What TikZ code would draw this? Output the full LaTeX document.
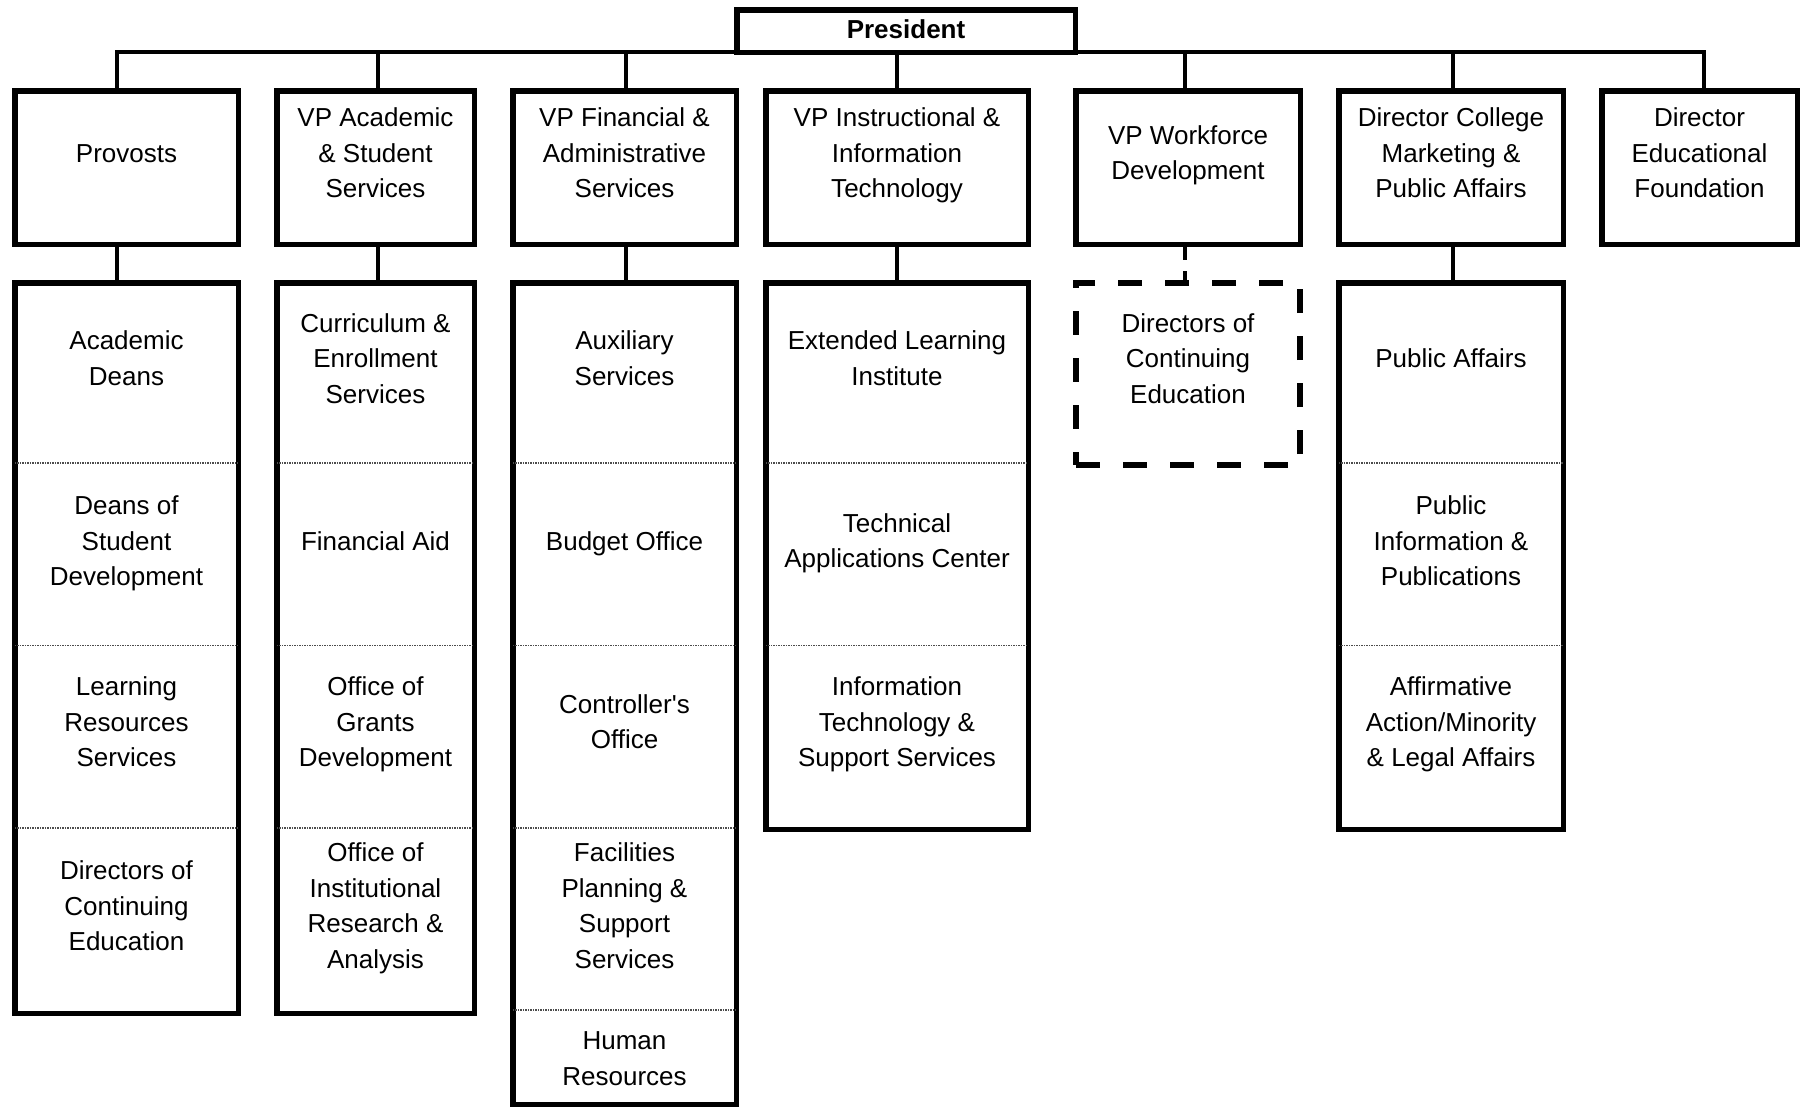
\documentclass[tikz,border=0pt]{standalone}
\usepackage{fontspec}
\setmainfont{Liberation Sans}
\begin{document}
\begin{tikzpicture}[x=1pt,y=-1pt,
  box/.style={draw, rectangle, line width=5.5pt, inner sep=0pt},
  upper/.style={box, minimum height=153.5pt},
  dbox/.style={draw, rectangle, line width=6pt, dash pattern=on 24pt off 23pt, dash phase=0pt, inner sep=0pt},
  lbl/.style={align=center, inner sep=0pt, font=\fontsize{26}{35.5}\selectfont},
  link/.style={line width=4pt},
  dlink/.style={line width=4pt, dash pattern=on 13pt off 11pt on 9pt off 20pt},
  sep/.style={line width=1.5pt, black!70, dash pattern=on 1.5pt off 1pt,
    shorten <=2.75pt, shorten >=2.75pt}]

% page frame
\useasboundingbox[fill=white] (0,0) rectangle (1801,1109);

% drop points on the bus line
\coordinate (d1) at (117,52);
\coordinate (d2) at (378,52);
\coordinate (d3) at (626,52);
\coordinate (d4) at (897,52);
\coordinate (d5) at (1185,52);
\coordinate (d6) at (1453,52);
\coordinate (d7) at (1704,52);

% separator heights in the unit columns
\coordinate (s1) at (0,463);
\coordinate (s2) at (0,645.5);
\coordinate (s3) at (0,828);
\coordinate (s4) at (0,1010);

% top of the tree
\node[box, lbl, minimum width=338.5pt, minimum height=42.5pt,
      font=\fontsize{26}{35.5}\selectfont\bfseries] (pres) at (906,31) {\strut President};

% second level boxes
\node[upper, minimum width=223.5pt] (prov) at (126.5,167.5) {};
\node[upper, minimum width=197.5pt] (vpa)  at (375.5,167.5) {};
\node[upper, minimum width=223.5pt] (vpf)  at (624.5,167.5) {};
\node[upper, minimum width=262.5pt] (vpi)  at (897,167.5) {};
\node[upper, minimum width=224.5pt] (vpw)  at (1188,167.5) {};
\node[upper, minimum width=224.5pt] (dcm)  at (1451,167.5) {};
\node[upper, minimum width=195.5pt] (def)  at (1699.5,167.5) {};

\node[lbl] (tprov) at (126.5,155) {\strut Provosts};
\node[lbl] (tvpa)  at (375.5,155) {\strut VP Academic\\\& Student\\Services\strut};
\node[lbl] (tvpf)  at (624.5,155) {\strut VP Financial \&\\Administrative\\Services\strut};
\node[lbl] (tvpi)  at (897,155)   {\strut VP Instructional \&\\Information\\Technology\strut};
\node[lbl] (tvpw)  at (1188,155)  {\strut VP Workforce\\Development\strut};
\node[lbl] (tdcm)  at (1451,155)  {\strut Director College\\Marketing \&\\Public Affairs\strut};
\node[lbl] (tdef)  at (1699.5,155) {\strut Director\\Educational\\Foundation\strut};

% unit columns
\node[box, minimum width=223.5pt, minimum height=730.5pt] (provL) at (126.5,648) {};
\node[box, minimum width=197.5pt, minimum height=730.5pt] (vpaL)  at (375.5,648) {};
\node[box, minimum width=223.5pt, minimum height=821.5pt] (vpfL)  at (624.5,693.5) {};
\node[box, minimum width=262.5pt, minimum height=546.5pt] (vpiL)  at (897,556) {};
\node[box, minimum width=224.5pt, minimum height=546.5pt] (dcmL)  at (1451,556) {};
\node[dbox, minimum width=224pt, minimum height=182pt] (vpwL) at (1188,374) {};

% separators between units
\foreach \c in {provL,vpaL,vpfL}{
  \foreach \s in {s1,s2,s3}{
    \draw[sep] (\c.west |- \s) -- (\c.east |- \s);
  }
}
\draw[sep] (vpfL.west |- s4) -- (vpfL.east |- s4);
\foreach \c in {vpiL,dcmL}{
  \foreach \s in {s1,s2}{
    \draw[sep] (\c.west |- \s) -- (\c.east |- \s);
  }
}

% unit labels
\node[lbl] (u11) at (126.5,360.5) {\strut Academic\\Deans\strut};
\node[lbl] (u12) at (126.5,543)   {\strut Deans of\\Student\\Development\strut};
\node[lbl] (u13) at (126.5,724)   {\strut Learning\\Resources\\Services\strut};
\node[lbl] (u14) at (126.5,908)   {\strut Directors of\\Continuing\\Education\strut};

\node[lbl] (u21) at (375.5,360.5) {\strut Curriculum \&\\Enrollment\\Services\strut};
\node[lbl] (u22) at (375.5,543)   {\strut Financial Aid};
\node[lbl] (u23) at (375.5,724)   {\strut Office of\\Grants\\Development\strut};
\node[lbl] (u24) at (375.5,908)   {\strut Office of\\Institutional\\Research \&\\Analysis\strut};

\node[lbl] (u31) at (624.5,360.5) {\strut Auxiliary\\Services\strut};
\node[lbl] (u32) at (624.5,543)   {\strut Budget Office};
\node[lbl] (u33) at (624.5,724)   {\strut Controller\textquotesingle s\\Office\strut};
\node[lbl] (u34) at (624.5,908)   {\strut Facilities\\Planning \&\\Support\\Services\strut};
\node[lbl] (u35) at (624.5,1060.5) {\strut Human\\Resources\strut};

\node[lbl] (u41) at (897,360.5) {\strut Extended Learning\\Institute\strut};
\node[lbl] (u42) at (897,543)   {\strut Technical\\Applications Center\strut};
\node[lbl] (u43) at (897,724)   {\strut Information\\Technology \&\\Support Services\strut};

\node[lbl] (u51) at (1188,360.5) {\strut Directors of\\Continuing\\Education\strut};

\node[lbl] (u61) at (1451,360.5) {\strut Public Affairs};
\node[lbl] (u62) at (1451,543)   {\strut Public\\Information \&\\Publications\strut};
\node[lbl] (u63) at (1451,724)   {\strut Affirmative\\Action/Minority\\\& Legal Affairs\strut};

% bus line and drops to the second level
\draw[link] (d1 |- prov.north) -- (d1) -- (d7) -- (d7 |- def.north);
\draw[link] (d2) -- (d2 |- vpa.north);
\draw[link] (d3) -- (d3 |- vpf.north);
\draw[link] (pres.south -| d4) -- (d4 |- vpi.north);
\draw[link] (d5) -- (d5 |- vpw.north);
\draw[link] (d6) -- (d6 |- dcm.north);

% links from second level to unit columns
\draw[link] (prov.south -| d1) -- (provL.north -| d1);
\draw[link] (vpa.south -| d2) -- (vpaL.north -| d2);
\draw[link] (vpf.south -| d3) -- (vpfL.north -| d3);
\draw[link] (vpi.south -| d4) -- (vpiL.north -| d4);
\draw[dlink] (vpw.south -| d5) -- (vpwL.north -| d5);
\draw[link] (dcm.south -| d6) -- (dcmL.north -| d6);
\end{tikzpicture}
\end{document}
